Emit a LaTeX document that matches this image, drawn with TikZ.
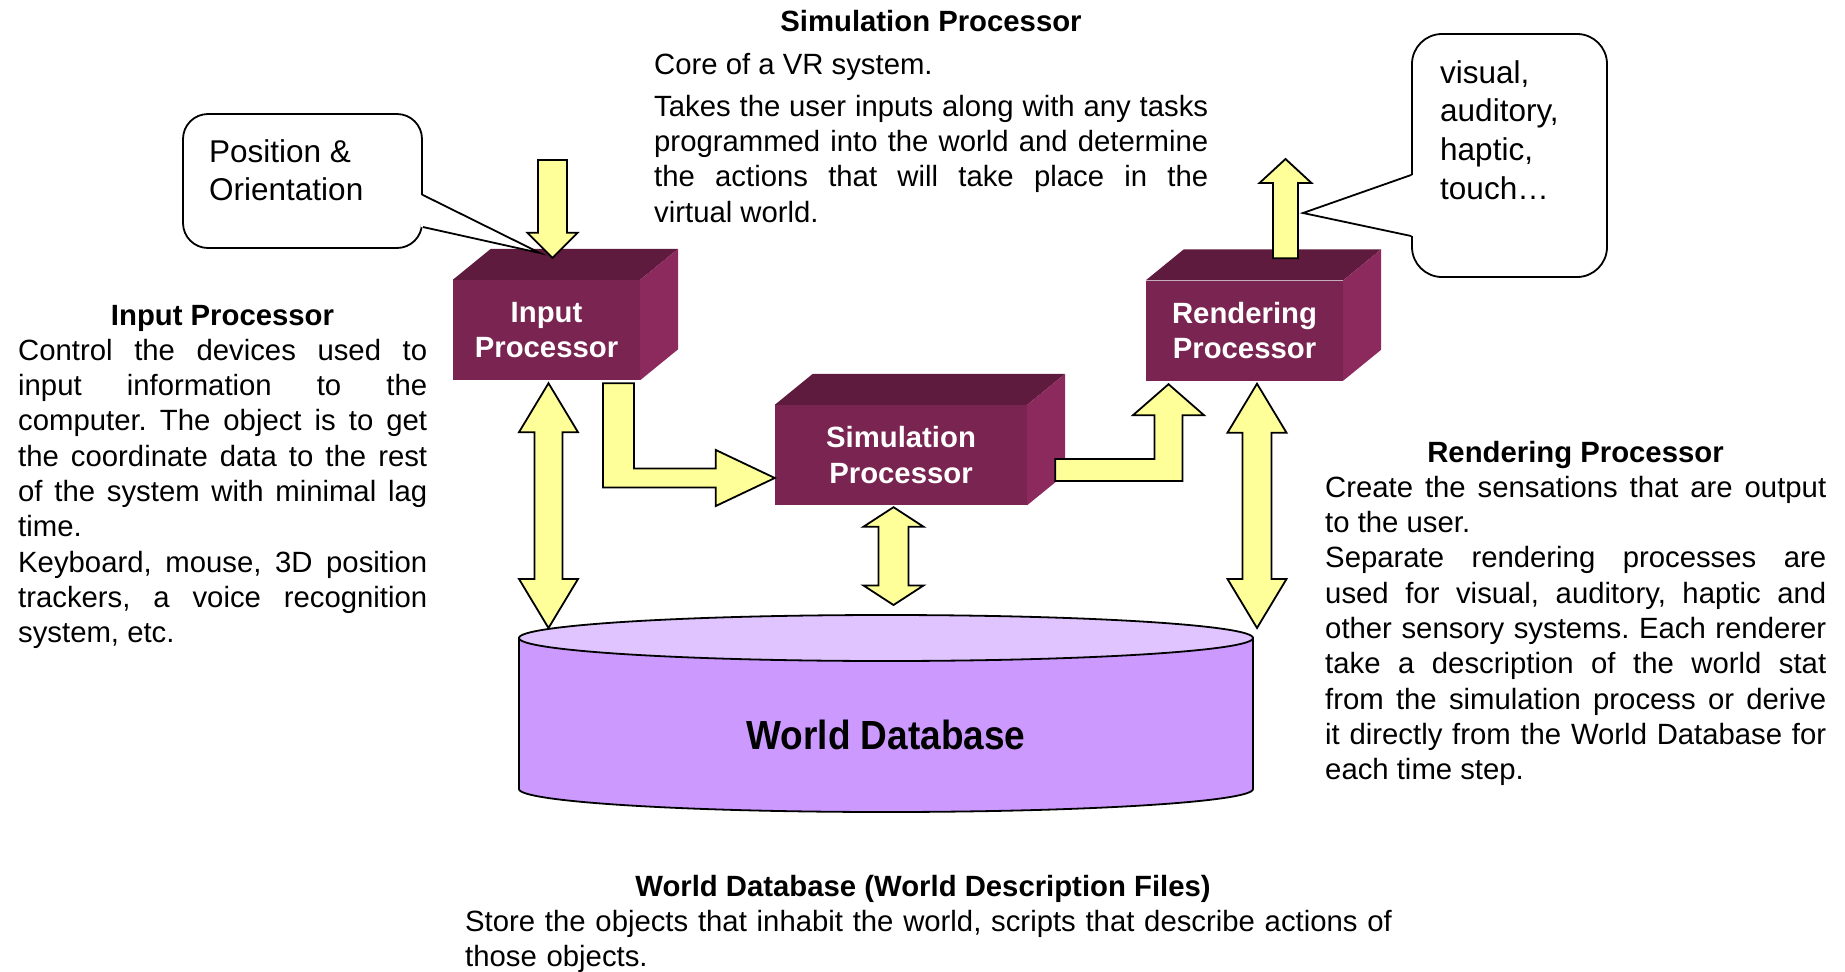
\documentclass[tikz,border=0pt]{standalone}
\usepackage{fontspec}
\setmainfont{Liberation Sans}
\usetikzlibrary{calc}
\frenchspacing

\definecolor{boxfront}{RGB}{121,36,81}
\definecolor{boxtop}{RGB}{94,27,62}
\definecolor{boxside}{RGB}{140,42,94}
\definecolor{arrowfill}{RGB}{255,255,153}
\definecolor{dbside}{RGB}{204,153,255}
\definecolor{dblid}{RGB}{224,196,255}

\newcommand{\bodyfont}{\fontsize{29.3}{35.3}\selectfont}
\newcommand{\callfont}{\fontsize{31.5}{38.6}\selectfont}

% side and top faces of a 3D block whose front face is node #1
\newcommand{\blockfaces}[1]{%
  \fill[boxtop] (#1.north west) -- ([shift={(38pt,31pt)}]#1.north west)
    -- ([shift={(38pt,31pt)}]#1.north east) -- (#1.north east) -- cycle;
  \fill[boxside] (#1.north east) -- ([shift={(38pt,31pt)}]#1.north east)
    -- ([shift={(38pt,31pt)}]#1.south east) -- (#1.south east) -- cycle;}

% vertical two-headed block arrow: top tip #1, bottom tip #2,
% shaft half width #3, head half width #4, head length #5
\newcommand{\vdouble}[5]{%
  \draw[blockarrow] let \p1=(#1), \p2=(#2) in
    (\x1,\y1) -- (\x1+#4,\y1-#5) -- (\x1+#3,\y1-#5) -- (\x1+#3,\y2+#5)
    -- (\x1+#4,\y2+#5) -- (\x1,\y2) -- (\x1-#4,\y2+#5) -- (\x1-#3,\y2+#5)
    -- (\x1-#3,\y1-#5) -- (\x1-#4,\y1-#5) -- cycle;}

\tikzset{
  front/.style={fill=boxfront, minimum height=100pt, inner sep=0pt,
    text=white, font=\bodyfont\bfseries, align=center},
  blockarrow/.style={fill=arrowfill, draw=black, line width=1.8pt},
  dbline/.style={draw=black, line width=1.8pt},
  callbox/.style={draw=black, fill=white, line width=1.8pt},
  callline/.style={draw=black, line width=1.8pt},
  para/.style={anchor=north west, inner sep=0pt, font=\bodyfont, align=justify},
  calltext/.style={anchor=north west, inner sep=0pt, font=\callfont, align=left},
  heading/.style={anchor=base, inner sep=0pt, font=\bodyfont\bfseries},
}

\begin{document}
\begin{tikzpicture}[x=1pt, y=-1pt]
\tolerance=10000 \hyphenpenalty=10000
\useasboundingbox (0,0) rectangle (1845,972);

% ---------- World Database cylinder ----------
\coordinate (dbtop) at (886,638);
\coordinate (dbbot) at (886,789);
\draw[dbline, fill=dbside] ([xshift=-367pt]dbtop) -- ([xshift=-367pt]dbbot)
  arc[start angle=180, end angle=360, x radius=367pt, y radius=23pt]
  -- ([xshift=367pt]dbtop) -- cycle;
\draw[dbline, fill=dblid] (dbtop) ellipse[x radius=367pt, y radius=23pt];
\node[inner sep=0pt, font=\fontsize{37}{40}\selectfont\bfseries] (db) at (886,735)
  {\scalebox{1}[1.1]{World Database}};

% ---------- processor blocks ----------
\node[front, minimum width=187pt] (inp) at (546.5,330) {Input\\Processor};
\blockfaces{inp}
\node[front, minimum width=252pt] (sim) at (901,455) {Simulation\\Processor};
\blockfaces{sim}
\node[front, minimum width=197pt] (ren) at (1244.5,330.5) {Rendering\\Processor};
\blockfaces{ren}

% ---------- block arrows ----------
% into the input processor
\coordinate (inFree) at (552.5,160);
\draw[blockarrow] let \p1=(inFree), \p2=([shift={(6pt,22pt)}]inp.north) in
  (\x1-14.5pt,\y1) -- (\x1+14.5pt,\y1) -- (\x1+14.5pt,\y2+25pt) -- (\x1+25pt,\y2+25pt)
  -- (\x1,\y2) -- (\x1-25pt,\y2+25pt) -- (\x1-14.5pt,\y2+25pt) -- cycle;

% out of the rendering processor
\coordinate (renFree) at (1285.5,159);
\draw[blockarrow] let \p1=([shift={(41pt,22pt)}]ren.north), \p2=(renFree) in
  (\x1-12.5pt,\y1) -- (\x1+12.5pt,\y1) -- (\x1+12.5pt,\y2-24pt) -- (\x1+26pt,\y2-24pt)
  -- (\x1,\y2) -- (\x1-26pt,\y2-24pt) -- (\x1-12.5pt,\y2-24pt) -- cycle;

% input -> simulation
\draw[blockarrow] let \p1=([shift={(72pt,-3pt)}]inp.south), \p2=([yshift=-23pt]sim.west) in
  (\x1-15.5pt,\y1) -- (\x1+15.5pt,\y1) -- (\x1+15.5pt,\y2+9.5pt) -- (\x2-59pt,\y2+9.5pt)
  -- (\x2-59pt,\y2+28pt) -- (\x2,\y2) -- (\x2-59pt,\y2-28pt) -- (\x2-59pt,\y2-9.5pt)
  -- (\x1-15.5pt,\y2-9.5pt) -- cycle;

% simulation -> rendering
\draw[blockarrow] let \p1=([shift={(28pt,-15pt)}]sim.east), \p2=([shift={(-76pt,-3.5pt)}]ren.south) in
  (\x1,\y1+11pt) -- (\x2-14pt,\y1+11pt) -- (\x2-14pt,\y2-31pt) -- (\x2-35.5pt,\y2-31pt)
  -- (\x2,\y2) -- (\x2+35.5pt,\y2-31pt) -- (\x2+14pt,\y2-31pt) -- (\x2+14pt,\y1-11pt)
  -- (\x1,\y1-11pt) -- cycle;

% processors <-> world database
\vdouble{[shift={(2pt,-3pt)}]inp.south}{[shift={(-337.5pt,10pt)}]dbtop}{14pt}{29.5pt}{49pt}
\vdouble{[shift={(-7.5pt,-2pt)}]sim.south}{[shift={(7.5pt,33pt)}]dbtop}{15pt}{30pt}{19.5pt}
\vdouble{[shift={(12.5pt,-3pt)}]ren.south}{[shift={(371pt,10pt)}]dbtop}{14.5pt}{29.5pt}{49pt}

% ---------- callouts ----------
\node[callbox, rounded corners=25pt, minimum width=239pt, minimum height=134pt] (pos) at (302.5,181) {};
\coordinate (posTip) at (540,253);
\fill[white] ([shift={(-2pt,-14pt)}]pos.east) -- (posTip) -- ([shift={(-2pt,-46pt)}]pos.east) -- cycle;
\draw[callline] ([yshift=-14pt]pos.east) -- (posTip) -- ([yshift=-46pt]pos.east);
\node[calltext] (posText) at (209,135) {\strut Position \&\\Orientation};

\node[callbox, rounded corners=30pt, minimum width=195pt, minimum height=243pt] (sens) at (1509.5,155.5) {};
\coordinate (sensTip) at (1303,213);
\fill[white] ([shift={(2pt,-19.5pt)}]sens.west) -- (sensTip) -- ([shift={(2pt,-80.5pt)}]sens.west) -- cycle;
\draw[callline] ([yshift=-19.5pt]sens.west) -- (sensTip) -- ([yshift=-80.5pt]sens.west);
\node[calltext] (sensText) at (1440,56) {\strut visual,\\auditory,\\haptic,\\touch…};

% ---------- descriptions ----------
\node[heading] (simHead) at (931,31) {Simulation Processor};
\node[para, text width=554pt] (simCore) at (654,49.8) {\strut Core of a VR system.};
\node[para, text width=554pt] (simText) at (654,91.3) {\strut Takes the user inputs along with any tasks\linebreak
  programmed into the world and determine\linebreak the actions that will take place in the\linebreak virtual world.};

\node[heading] (inHead) at (222.5,325) {Input Processor};
\node[para, text width=409pt] (inText) at (18,335.3) {\strut Control the devices used to\linebreak
  input information to the\linebreak computer. The object is to get\linebreak
  the coordinate data to the rest\linebreak of the system with minimal lag\linebreak time.\par
  Keyboard, mouse, 3D position\linebreak trackers, a voice recognition\linebreak system, etc.};

\node[heading] (renHead) at (1575.5,462) {Rendering Processor};
\node[para, text width=501pt] (renText) at (1325,472.3) {\strut Create the sensations that are output\linebreak
  to the user.\par Separate rendering processes are\linebreak used for visual, auditory, haptic and\linebreak
  other sensory systems. Each renderer\linebreak take a description of the world stat\linebreak
  from the simulation process or derive\linebreak it directly from the World Database for\linebreak each time step.};

\node[heading] (dbHead) at (923,896) {World Database (World Description Files)};
\node[para, align=left, text width=940pt] (dbText) at (465,906.3) {\strut Store the objects that inhabit the world, scripts that describe actions of\\ those objects.};
\end{tikzpicture}
\end{document}
